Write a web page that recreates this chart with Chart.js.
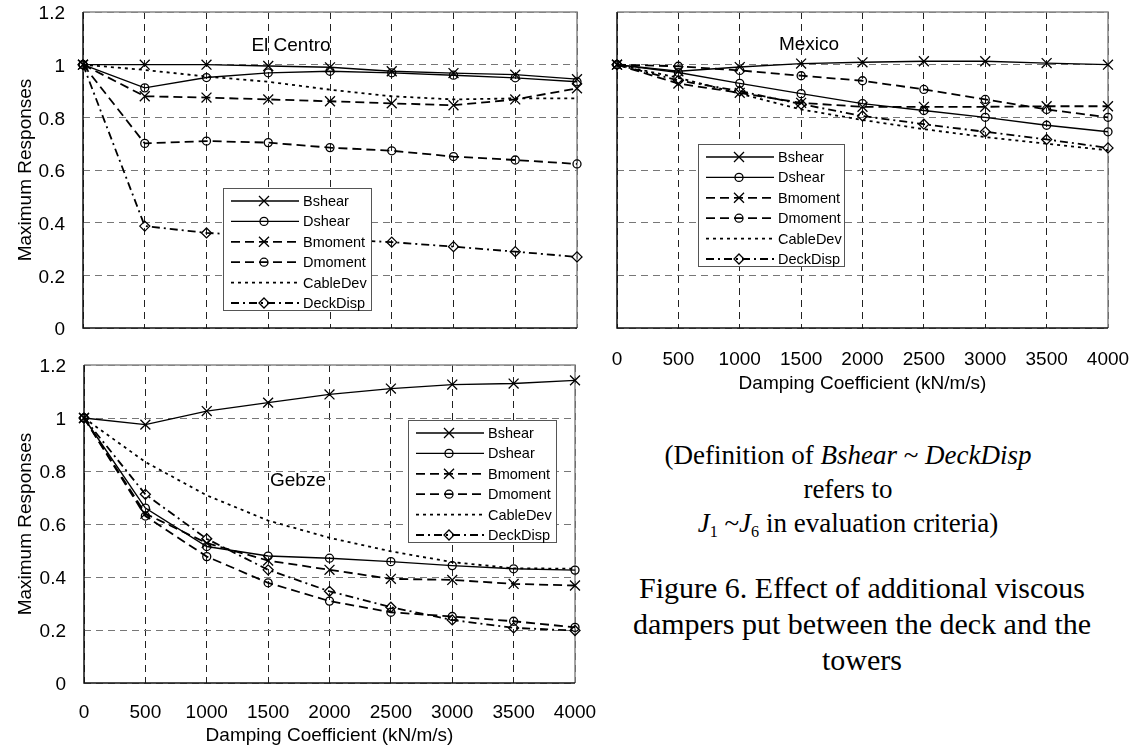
<!DOCTYPE html>
<html>
<head>
<meta charset="utf-8">
<script src="https://cdn.jsdelivr.net/npm/chart.js@4.4.0/dist/chart.umd.min.js"></script>
<style>
  body { margin: 0; background: #fff; width: 1136px; height: 755px; position: relative; overflow: hidden; }
  canvas { position: absolute; }
  #elcentro { left: 0; top: 0; }
  #mexico { left: 560px; top: 0; }
  #gebze { left: 0; top: 340px; }
  .note { position: absolute; font-family: "Liberation Serif", "Times New Roman", serif; text-align: center; color: #000; white-space: nowrap; }
  .note sub { font-size: 0.6em; vertical-align: -0.3em; line-height: 0; }
</style>
</head>
<body>

<canvas id="elcentro" width="600" height="345"></canvas>
<canvas id="mexico" width="576" height="400"></canvas>
<canvas id="gebze" width="600" height="415"></canvas>

<div class="note" style="left:600px; top:438px; width:496px; font-size:27px; line-height:34px;">
  (Definition of <i>Bshear</i> ~ <i>DeckDisp</i><br>refers to<br><i>J</i><sub>1</sub> ~<i>J</i><sub>6</sub> in evaluation criteria)
</div>
<div class="note" style="left:600px; top:570px; width:524px; font-size:30px; line-height:36px;">
  Figure 6. Effect of additional viscous<br>dampers put between the deck and the<br>towers
</div>

<script>
  // damping coefficient (kN/m/s)
  const coef = [0, 500, 1000, 1500, 2000, 2500, 3000, 3500, 4000];
  const seriesNames = ['Bshear', 'Dshear', 'Bmoment', 'Dmoment', 'CableDev', 'DeckDisp'];
  const yTicks = [0, 0.2, 0.4, 0.6, 0.8, 1, 1.2];

  // El Centro
  const elBshear   = [1, 1.0, 1.0, 0.995, 0.99, 0.975, 0.968, 0.962, 0.945];
  const elDshear   = [1, 0.912, 0.951, 0.969, 0.975, 0.969, 0.96, 0.95, 0.935];
  const elBmoment  = [1, 0.88, 0.875, 0.868, 0.861, 0.853, 0.846, 0.868, 0.91];
  const elDmoment  = [1, 0.701, 0.71, 0.704, 0.685, 0.673, 0.651, 0.638, 0.623];
  const elCableDev = [1, 0.98, 0.955, 0.935, 0.905, 0.88, 0.868, 0.872, 0.872];
  const elDeckDisp = [1, 0.387, 0.361, 0.35, 0.338, 0.326, 0.309, 0.29, 0.27];

  // Mexico
  const mxBshear   = [1, 0.975, 0.991, 1.004, 1.009, 1.013, 1.013, 1.006, 1.0];
  const mxDshear   = [1, 0.97, 0.929, 0.89, 0.852, 0.826, 0.8, 0.77, 0.745];
  const mxBmoment  = [1, 0.928, 0.893, 0.855, 0.84, 0.84, 0.84, 0.842, 0.842];
  const mxDmoment  = [1, 0.994, 0.978, 0.958, 0.939, 0.906, 0.868, 0.83, 0.8];
  const mxCableDev = [1, 0.95, 0.89, 0.83, 0.79, 0.755, 0.725, 0.7, 0.675];
  const mxDeckDisp = [1, 0.94, 0.9, 0.85, 0.805, 0.774, 0.745, 0.716, 0.684];

  // Gebze
  const gbBshear   = [1, 0.975, 1.026, 1.058, 1.089, 1.111, 1.126, 1.13, 1.142];
  const gbDshear   = [1, 0.66, 0.515, 0.479, 0.471, 0.458, 0.443, 0.431, 0.426];
  const gbBmoment  = [1, 0.639, 0.528, 0.462, 0.427, 0.393, 0.389, 0.374, 0.368];
  const gbDmoment  = [1, 0.63, 0.477, 0.378, 0.309, 0.267, 0.251, 0.233, 0.21];
  const gbCableDev = [1, 0.834, 0.708, 0.613, 0.548, 0.497, 0.456, 0.433, 0.431];
  const gbDeckDisp = [1, 0.712, 0.544, 0.427, 0.346, 0.286, 0.238, 0.208, 0.198];

  Chart.defaults.font.family = '"Liberation Sans", Arial, sans-serif';
  Chart.defaults.color = '#000';
  Chart.defaults.animation = false;

  // line / marker look of each series
  const looks = [
    { dash: [], point: 'crossRot', r: 7 },
    { dash: [], point: 'circle', r: 4 },
    { dash: [9, 5], point: 'crossRot', r: 7 },
    { dash: [9, 5], point: 'circle', r: 4 },
    { dash: [3, 4], point: false, r: 0 },
    { dash: [8, 4, 2, 4], point: 'rectRot', r: 5 }
  ];

  function makeSets(rows) {
    return rows.map(function(vals, i) {
      return {
        label: seriesNames[i],
        data: vals.map(function(v, k) { return { x: coef[k], y: v }; }),
        borderColor: '#000',
        borderWidth: looks[i].dash.length ? 1.8 : 1.4,
        borderDash: looks[i].dash,
        pointStyle: looks[i].point,
        pointRadius: looks[i].r,
        pointBorderColor: '#000',
        pointBackgroundColor: 'rgba(0,0,0,0)',
        pointBorderWidth: 1.3,
        tension: 0,
        clip: false
      };
    });
  }

  // marker for the boxed legend
  function mark(ctx, style, x, y) {
    ctx.beginPath();
    if (style === 'crossRot') {
      ctx.moveTo(x - 5, y - 5); ctx.lineTo(x + 5, y + 5);
      ctx.moveTo(x + 5, y - 5); ctx.lineTo(x - 5, y + 5);
    } else if (style === 'circle') {
      ctx.arc(x, y, 4, 0, Math.PI * 2);
    } else if (style === 'rectRot') {
      ctx.moveTo(x, y - 5); ctx.lineTo(x + 5, y); ctx.lineTo(x, y + 5); ctx.lineTo(x - 5, y); ctx.closePath();
    }
    ctx.stroke();
  }

  const frame = {
    id: 'frame',
    beforeDatasetsDraw(chart) {
      const ctx = chart.ctx, a = chart.chartArea;
      ctx.save();
      ctx.setLineDash([]);
      ctx.lineWidth = 1.5;
      ctx.strokeStyle = '#888';
      ctx.beginPath(); ctx.moveTo(a.left, a.top); ctx.lineTo(a.right, a.top); ctx.lineTo(a.right, a.bottom); ctx.stroke();
      ctx.strokeStyle = '#111';
      ctx.beginPath(); ctx.moveTo(a.left, a.top); ctx.lineTo(a.left, a.bottom); ctx.lineTo(a.right, a.bottom); ctx.stroke();
      ctx.restore();
    }
  };

  const boxLegend = {
    id: 'boxLegend',
    afterDatasetsDraw(chart, args, o) {
      const ctx = chart.ctx;
      ctx.save();
      // panel name
      ctx.font = '19px "Liberation Sans", Arial, sans-serif';
      ctx.fillStyle = '#000';
      ctx.textAlign = 'center';
      ctx.textBaseline = 'middle';
      ctx.fillText(o.name, o.nameX, o.nameY);
      // legend box
      ctx.fillStyle = '#fff';
      ctx.fillRect(o.x, o.y, o.w, o.h);
      ctx.strokeStyle = '#555';
      ctx.lineWidth = 1;
      ctx.strokeRect(o.x + 0.5, o.y + 0.5, o.w, o.h);
      ctx.font = '14.5px "Liberation Sans", Arial, sans-serif';
      ctx.textAlign = 'left';
      chart.data.datasets.forEach(function(ds, i) {
        const y = o.y + 13 + i * 20.4;
        ctx.strokeStyle = '#000';
        ctx.lineWidth = ds.borderWidth;
        ctx.setLineDash(ds.borderDash);
        ctx.beginPath(); ctx.moveTo(o.x + 8, y); ctx.lineTo(o.x + 76, y); ctx.stroke();
        ctx.setLineDash([]);
        ctx.lineWidth = 1.3;
        if (ds.pointStyle) mark(ctx, ds.pointStyle, o.x + 41, y);
        ctx.fillStyle = '#000';
        ctx.fillText(ds.label, o.x + 80, y + 1);
      });
      ctx.restore();
    }
  };

  function makeChart(id, rows, o) {
    return new Chart(document.getElementById(id), {
      type: 'line',
      data: { datasets: makeSets(rows) },
      plugins: [frame, boxLegend],
      options: {
        responsive: false,
        layout: { padding: { top: o.top, right: o.right, left: 0, bottom: 0 } },
        plugins: {
          legend: { display: false },
          tooltip: { enabled: false },
          boxLegend: o.legend
        },
        scales: {
          x: {
            type: 'linear', min: coef[0], max: coef[coef.length - 1],
            ticks: {
              stepSize: 500, display: o.xLabels, padding: o.xPad, maxRotation: 0, autoSkip: false,
              font: { size: 19 }, callback: function(v) { return String(v); }
            },
            grid: { color: '#222', drawTicks: false },
            border: { display: false, dash: [7, 5] },
            title: {
              display: o.xLabels, text: 'Damping Coefficient (kN/m/s)',
              font: { size: 19 }, padding: { top: 0, bottom: o.xTitlePad }
            },
            afterFit: function(s) { s.height = o.xHeight; s.paddingLeft = 0; s.paddingRight = 0; }
          },
          y: {
            min: yTicks[0], max: yTicks[yTicks.length - 1],
            ticks: {
              stepSize: 0.2, display: o.yLabels, padding: 18, labelOffset: 2, font: { size: 19 },
              callback: function(v) { return String(Math.round(v * 10) / 10); }
            },
            grid: { color: '#777', drawTicks: false },
            border: { display: false, dash: [7, 5] },
            title: {
              display: o.yLabels, text: 'Maximum Responses',
              font: { size: 19 }, padding: { top: 14, bottom: 0 }
            },
            afterFit: function(s) { s.width = o.yWidth; s.paddingTop = 0; s.paddingBottom = 0; }
          }
        }
      }
    });
  }

  makeChart('elcentro',
    [elBshear, elDshear, elBmoment, elDmoment, elCableDev, elDeckDisp],
    { top: 12, right: 23, yWidth: 83, xHeight: 17, xLabels: false, yLabels: true, xPad: 0, xTitlePad: 0,
      legend: { name: 'El Centro', nameX: 291, nameY: 46, x: 223, y: 188, w: 148, h: 122 } });

  makeChart('mexico',
    [mxBshear, mxDshear, mxBmoment, mxDmoment, mxCableDev, mxDeckDisp],
    { top: 12, right: 28, yWidth: 57, xHeight: 72, xLabels: true, yLabels: false, xPad: 20, xTitlePad: 5,
      legend: { name: 'Mexico', nameX: 249, nameY: 45, x: 138, y: 144, w: 146, h: 122 } });

  makeChart('gebze',
    [gbBshear, gbDshear, gbBmoment, gbDmoment, gbCableDev, gbDeckDisp],
    { top: 25, right: 25, yWidth: 84, xHeight: 72, xLabels: true, yLabels: true, xPad: 18, xTitlePad: 8,
      legend: { name: 'Gebze', nameX: 298, nameY: 141, x: 408, y: 80, w: 148, h: 122 } });
</script>
</body>
</html>
